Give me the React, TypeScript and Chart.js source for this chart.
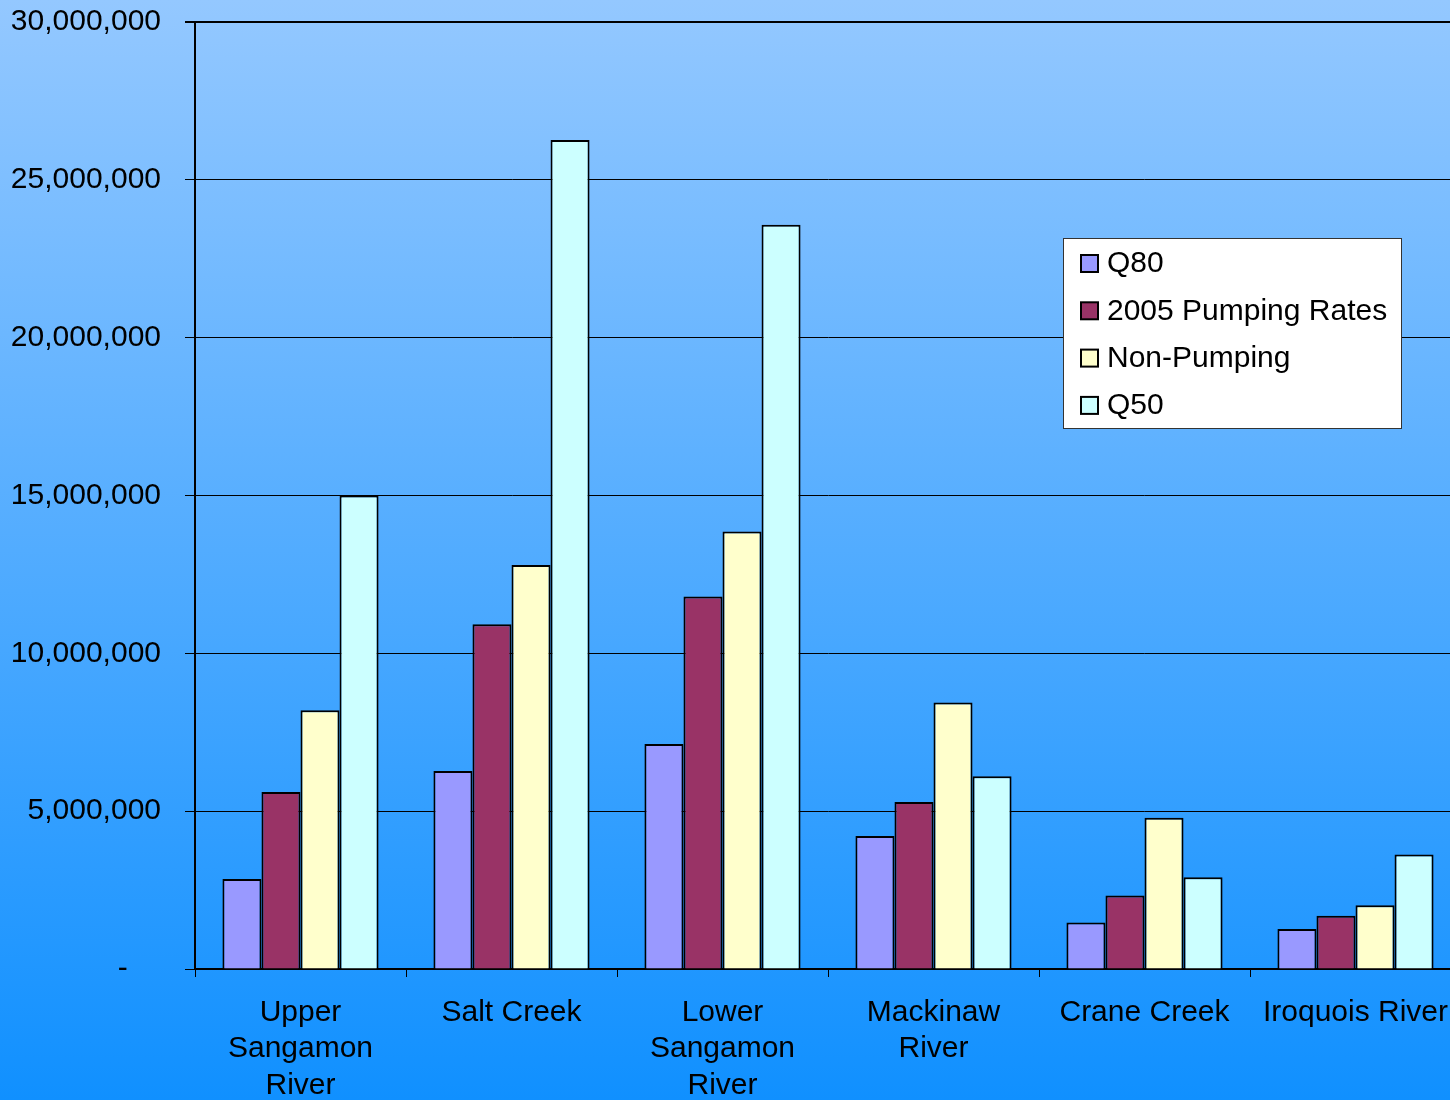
import React, { useEffect, useRef } from "react";
import { Chart, registerables } from "chart.js";

Chart.register(...registerables);

const categories: (string | string[])[] = [
  ["Upper", "Sangamon", "River"],
  "Salt Creek",
  ["Lower", "Sangamon", "River"],
  ["Mackinaw", "River"],
  "Crane Creek",
  "Iroquois River",
];

const q80 = [2850000, 6270000, 7130000, 4210000, 1470000, 1270000];
const pumping2005 = [5610000, 10920000, 11800000, 5290000, 2330000, 1690000];
const nonPumping = [8200000, 12800000, 13860000, 8440000, 4790000, 2020000];
const q50 = [15000000, 26260000, 23580000, 6110000, 2910000, 3630000];

const seriesLabels = ["Q80", "2005 Pumping Rates", "Non-Pumping", "Q50"];
const seriesColors = ["#9999FF", "#993366", "#FFFFCC", "#CCFFFF"];

const yMax = 30000000;
const yStep = 5000000;

const FONT = "'Liberation Sans', Arial, sans-serif";

const backgroundPlugin = {
  id: "bgGradient",
  beforeDraw(chart: any) {
    const { ctx, width, height } = chart;
    ctx.save();
    const g = ctx.createLinearGradient(0, 0, 0, height);
    g.addColorStop(0, "#94C8FF");
    g.addColorStop(1, "#1090FF");
    ctx.fillStyle = g;
    ctx.fillRect(0, 0, width, height);
    ctx.restore();
  },
};

const legendPlugin = {
  id: "boxLegend",
  afterDraw(chart: any) {
    const { ctx } = chart;
    const x = 1063.5;
    const y = 238.5;
    const w = 338;
    const h = 190;
    ctx.save();
    ctx.fillStyle = "#FFFFFF";
    ctx.fillRect(x, y, w, h);
    ctx.strokeStyle = "#333333";
    ctx.lineWidth = 1;
    ctx.strokeRect(x, y, w, h);
    ctx.font = `30px ${FONT}`;
    ctx.textBaseline = "middle";
    ctx.textAlign = "left";
    chart.data.datasets.forEach((ds: any, i: number) => {
      const cy = 263 + i * 47.3;
      ctx.fillStyle = ds.backgroundColor;
      ctx.fillRect(1081, cy - 8, 17, 17);
      ctx.strokeStyle = "#000000";
      ctx.lineWidth = 2;
      ctx.strokeRect(1081, cy - 8, 17, 17);
      ctx.fillStyle = "#000000";
      ctx.fillText(ds.label, 1107, cy + 1);
    });
    ctx.restore();
  },
};

export default function App() {
  const ref = useRef<HTMLCanvasElement | null>(null);

  useEffect(() => {
    document.body.style.margin = "0";
    if (!ref.current) return;
    const seriesData = [q80, pumping2005, nonPumping, q50];
    const chart = new Chart(ref.current, {
      type: "bar",
      data: {
        labels: categories,
        datasets: seriesData.map((d, i) => ({
          label: seriesLabels[i],
          data: d,
          backgroundColor: seriesColors[i],
          borderColor: "#000000",
          borderWidth: 2,
          barPercentage: 1.0,
          categoryPercentage: 0.74,
        })),
      },
      options: {
        animation: false,
        responsive: false,
        devicePixelRatio: 1,
        layout: { padding: { top: 22, right: 0, left: 0, bottom: 0 } },
        plugins: {
          legend: { display: false },
          tooltip: { enabled: false },
        },
        scales: {
          x: {
            offset: true,
            grid: {
              display: true,
              offset: true,
              drawOnChartArea: false,
              drawTicks: true,
              tickLength: 8,
              color: "#000000",
              lineWidth: 1,
            },
            border: { display: true, color: "#000000", width: 2 },
            ticks: {
              autoSkip: false,
              maxRotation: 0,
              minRotation: 0,
              padding: 17,
              color: "#000000",
              font: { family: FONT, size: 30, lineHeight: 1.22 },
            },
            afterFit(scale: any) {
              scale.height = 131;
              scale.paddingLeft = 0;
              scale.paddingRight = 0;
            },
          },
          y: {
            min: 0,
            max: yMax,
            ticks: {
              stepSize: yStep,
              padding: 24,
              color: "#000000",
              font: { family: FONT, size: 30 },
              callback: (v: any) =>
                Number(v) === 0 ? "-    " : Number(v).toLocaleString("en-US"),
            },
            grid: {
              color: "#000000",
              lineWidth: (c: any) => (c.tick && c.tick.value === yMax ? 2 : 1),
              tickLength: 10,
              drawTicks: true,
            },
            border: { display: true, color: "#000000", width: 2 },
            afterFit(scale: any) {
              scale.width = 195;
              scale.paddingTop = 0;
              scale.paddingBottom = 0;
            },
          },
        },
      },
      plugins: [backgroundPlugin, legendPlugin],
    });
    return () => chart.destroy();
  }, []);

  return (
    <div style={{ width: 1450, height: 1100, overflow: "hidden" }}>
      <canvas ref={ref} width={1461} height={1100} style={{ display: "block" }} />
    </div>
  );
}
